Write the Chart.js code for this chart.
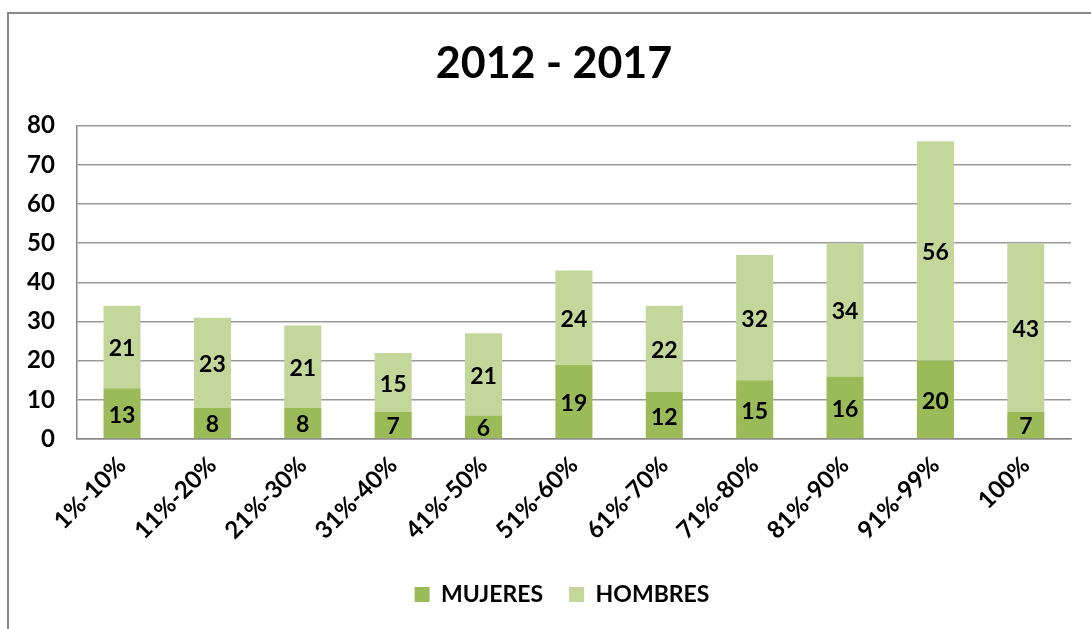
<!DOCTYPE html>
<html>
<head>
<meta charset="utf-8">
<script src="https://cdn.jsdelivr.net/npm/chart.js@4/dist/chart.umd.min.js"></script>
<style>
  html, body { margin: 0; padding: 0; background: #fff; overflow: hidden; }
  #wrap { position: relative; width: 1091px; height: 629px; }
  #frame { position: absolute; left: 7px; top: 12px; width: 1100px; height: 640px; border: 2px solid #888; }
  #barChart { position: absolute; left: 0; top: 0; }
</style>
</head>
<body>
<div id="wrap">
  <div id="frame"></div>
  <canvas id="barChart" width="1091" height="629"></canvas>
</div>
<script>
const categories = ['1%-10%', '11%-20%', '21%-30%', '31%-40%', '41%-50%', '51%-60%', '61%-70%', '71%-80%', '81%-90%', '91%-99%', '100%'];
const mujeres = [13, 8, 8, 7, 6, 19, 12, 15, 16, 20, 7];
const hombres = [21, 23, 21, 15, 21, 24, 22, 32, 34, 56, 43];

const FONT = 'Lato, "Open Sans", sans-serif';

// labels in the middle of each stacked segment
const segmentLabels = {
    id: 'segmentLabels',
    afterDatasetsDraw(chart) {
        const ctx = chart.ctx;
        ctx.save();
        ctx.font = 'bold 23px ' + FONT;
        ctx.fillStyle = '#000';
        ctx.textAlign = 'center';
        ctx.textBaseline = 'middle';
        chart.data.datasets.forEach((ds, i) => {
            const meta = chart.getDatasetMeta(i);
            meta.data.forEach((bar, j) => {
                const p = bar.getProps(['x', 'y', 'base'], true);
                ctx.fillText(String(ds.data[j]), p.x, (p.y + p.base) / 2 + 2);
            });
        });
        ctx.restore();
    }
};

// title and legend are centred on the outer frame, a bit right of the canvas middle
const shiftBlocks = {
    id: 'shiftBlocks',
    afterLayout(chart) {
        chart.titleBlock.left += 16;
        chart.titleBlock.right += 16;
        chart.legend.left += 24;
        chart.legend.right += 24;
    }
};

document.addEventListener('DOMContentLoaded', function () {
    const ctx = document.getElementById('barChart').getContext('2d');

    new Chart(ctx, {
        type: 'bar',
        data: {
            labels: categories,
            datasets: [
                { label: 'MUJERES', data: mujeres, backgroundColor: '#9BBB59' },
                { label: 'HOMBRES', data: hombres, backgroundColor: '#C4D79B' }
            ]
        },
        options: {
            responsive: false,
            animation: false,
            devicePixelRatio: 1,
            categoryPercentage: 0.82,
            barPercentage: 0.5,
            layout: { padding: { left: 5, right: 20, top: 38, bottom: 13 } },
            plugins: {
                title: {
                    display: true,
                    text: '2012 - 2017',
                    color: '#000',
                    font: { family: FONT, size: 43, weight: 'bold' },
                    padding: { top: 0, bottom: 36 }
                },
                legend: {
                    position: 'bottom',
                    labels: {
                        color: '#000',
                        font: { family: FONT, size: 23, weight: 'bold' },
                        boxWidth: 15,
                        boxHeight: 15,
                        padding: 26
                    }
                },
                tooltip: { enabled: false }
            },
            scales: {
                x: {
                    stacked: true,
                    grid: { display: false, drawTicks: false },
                    border: { color: '#888', width: 1.5 },
                    ticks: {
                        color: '#000',
                        font: { family: FONT, size: 24, weight: 'bold' },
                        minRotation: 45,
                        maxRotation: 45,
                        padding: 12
                    }
                },
                y: {
                    stacked: true,
                    min: 0,
                    max: 80,
                    grid: { color: '#999', lineWidth: 1.5, drawTicks: false },
                    border: { color: '#888', width: 1.5 },
                    ticks: {
                        stepSize: 10,
                        color: '#000',
                        font: { family: FONT, size: 24, weight: 'bold' },
                        padding: 22
                    }
                }
            }
        },
        plugins: [segmentLabels, shiftBlocks]
    });
});
</script>
</body>
</html>
